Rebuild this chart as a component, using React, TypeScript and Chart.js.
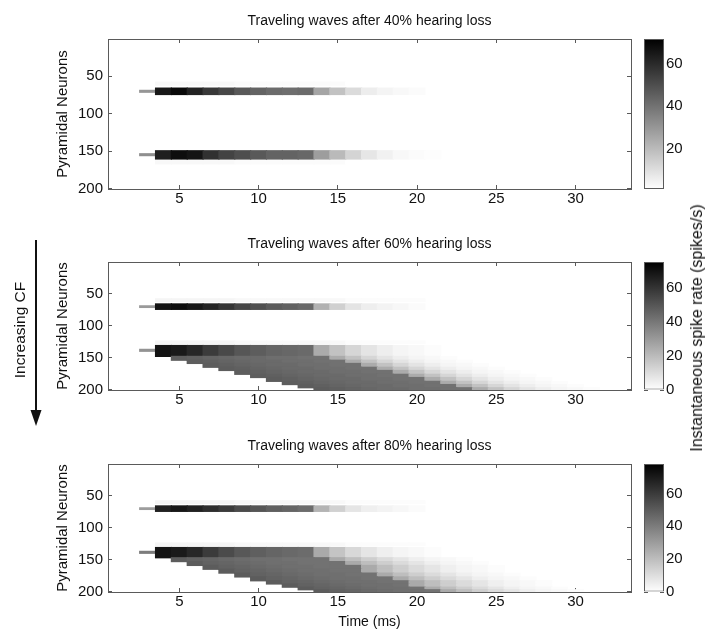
import React, { useEffect, useRef } from 'react';
import { Chart, registerables } from 'chart.js';
Chart.register(...registerables);

const FONT = "'Liberation Sans', Arial, Helvetica, sans-serif";

// ---- axis ticks / labels ----
const timeTicks = [5, 10, 15, 20, 25, 30];
const neuronTicks = [50, 100, 150, 200];
const panelTitles = [
  'Traveling waves after 40% hearing loss',
  'Traveling waves after 60% hearing loss',
  'Traveling waves after 80% hearing loss',
];
const colorbarLabel = 'Instantaneous spike rate (spikes/s)';
const timeLabel = 'Time (ms)';
const neuronLabel = 'Pyramidal Neurons';
const arrowLabel = 'Increasing CF';

// colour ranges of each panel [min, max] and colorbar ticks
const p1Range = [1, 71.5];
const p2Range = [0, 75.5];
const p3Range = [0, 78];
const p1BarTicks = [20, 40, 60];
const p2BarTicks = [0, 20, 40, 60];
const p3BarTicks = [0, 20, 40, 60];

// faint halo rate next to the bands (t = 3..20)
const haloRate = [0, 3, 3, 3, 3, 3, 2, 2, 2, 2, 2, 2, 2, 1, 1, 1, 1, 1];

// ---- Panel 1 (40% loss): two bands, rates per 1-ms bin starting at t=3 ----
const p1UpperRows = [66, 74.5];
const p1UpperThinRows = [69, 71.5];
const p1UpperHaloRows = [58, 62];
const p1UpperRate = [30, 65, 69, 62, 56, 52, 47, 44, 42, 41, 42, 26, 18, 11, 6, 4, 3, 2];
const p1LowerRows = [149.5, 160.5];
const p1LowerThinRows = [153.5, 156];
const p1LowerHaloRows = [163, 167];
const p1LowerRate = [32, 63, 68, 66, 58, 53, 50, 47, 44, 44, 43, 28, 20, 13, 8, 5, 3, 2, 1.5];

// ---- Panel 2 (60% loss) ----
const p2UpperRows = [66, 74.5];
const p2UpperThinRows = [69, 71.5];
const p2UpperHaloRows = [58, 62];
const p2UpperRate = [30, 70, 72, 69, 65, 60, 55, 52, 49, 47, 45, 23, 14, 8, 5, 3.6, 2.4, 1.2];
const p2HeadRows = [131, 148];
const p2HeadThinRows = [137, 140];
const p2HeadHaloRows = [124, 128];
const p2HeadRate = [32, 70, 68, 64, 58, 54, 50, 48, 46, 45, 44, 25, 18, 12, 8, 5, 3, 2, 1];
const p2StepEdges = [148, 154, 159, 165, 170, 176, 181, 187, 192, 197, 200.5];
const p2StepOnset = [5, 6, 7, 8, 9, 10, 11, 12, 13, 14];
const p2StepDrop = [15, 16, 17, 18, 19, 20, 21, 22, 23, 24];
const p2StepActive = [48, 47, 46, 45, 44, 44, 43, 43, 42, 42];
const p2StepFade = [25, 18, 12, 8, 5, 3, 2, 1];

// ---- Panel 3 (80% loss) ----
const p3UpperRows = [66, 74.5];
const p3UpperThinRows = [69, 71.5];
const p3UpperHaloRows = [58, 62];
const p3UpperRate = [30, 68, 71, 68, 64, 60, 55, 52, 49, 47, 45, 23, 14, 8, 5, 3.6, 2.4, 1.2];
const p3HeadRows = [131, 147];
const p3HeadThinRows = [137, 140];
const p3HeadHaloRows = [124, 128];
const p3HeadRate = [40, 72, 70, 66, 60, 55, 51, 49, 47, 46, 45, 26, 18, 12, 8, 5, 3, 2, 1];
const p3StepEdges = [147, 153, 159, 165, 171, 177, 183, 188, 193, 197, 200.5];
const p3StepOnset = [5, 6, 7, 8, 9, 10, 11, 12, 13, 14];
const p3StepDrop = [15, 16, 17, 17, 18, 19, 20, 20, 21, 22];
const p3StepActive = [50, 48, 47, 46, 45, 44, 44, 43, 43, 43];
const p3StepFade = [26, 20, 15, 11, 8, 5, 3, 2, 1];

type Cell = { x: number; y: [number, number]; v: number };

function bandCells(rows: number[], start: number, rates: number[], thin?: number[]): Cell[] {
  return rates
    .map((v, i) => ({
      x: start + i,
      y: (i === 0 && thin ? [thin[0], thin[1]] : [rows[0], rows[1]]) as [number, number],
      v,
    }))
    .filter((c) => c.v > 0);
}

function stepCells(edges: number[], onsets: number[], drops: number[], active: number[], fade: number[]): Cell[] {
  const out: Cell[] = [];
  onsets.forEach((t0, k) => {
    const rows = [edges[k], edges[k + 1]];
    const on = active.slice(0, drops[k] - t0);
    out.push(...bandCells(rows, t0, on));
    out.push(...bandCells(rows, drops[k], fade));
  });
  return out;
}

function grayOf(v: number, lo: number, hi: number) {
  const f = Math.min(1, Math.max(0, (v - lo) / (hi - lo)));
  const g = Math.round(255 * (1 - f));
  return `rgb(${g},${g},${g})`;
}

const TEXT = '#111';
const AXIS = '#5a5a5a';

function fixedTicks(values: number[]) {
  return (axis: any) => {
    axis.ticks = values.map((value) => ({ value }));
  };
}

function heatmapConfig(cells: Cell[], range: number[], title: string, bottomH: number, showTime: boolean): any {
  const innerTicks = { drawOnChartArea: false, drawTicks: true, tickLength: -4, color: AXIS, lineWidth: 1 };
  const border = { display: true, color: AXIS, width: 1 };
  return {
    type: 'bar',
    data: {
      datasets: [
        {
          data: cells,
          backgroundColor: (c: any) => (c.raw ? grayOf(c.raw.v, range[0], range[1]) : '#fff'),
          borderWidth: 0,
          barPercentage: 1,
          categoryPercentage: 1,
          inflateAmount: 0.6,
          grouped: false,
        },
      ],
    },
    options: {
      animation: false,
      responsive: false,
      events: [],
      layout: { padding: { left: 0, right: 5, top: 0, bottom: 0 } },
      plugins: {
        legend: { display: false },
        tooltip: { enabled: false },
        title: {
          display: true,
          text: title,
          fullSize: false,
          color: TEXT,
          font: { family: FONT, size: 14, weight: 'normal' },
          padding: { top: 9.6, bottom: 9.6 },
        },
      },
      scales: {
        x: {
          type: 'linear',
          position: 'bottom',
          min: 0.5,
          max: 33.5,
          offset: false,
          afterBuildTicks: fixedTicks(timeTicks),
          afterFit: (s: any) => {
            s.height = bottomH;
          },
          ticks: { color: TEXT, font: { family: FONT, size: 15 }, padding: 5, maxRotation: 0, callback: (v: any) => String(v) },
          grid: { ...innerTicks, offset: false },
          border,
          title: {
            display: showTime,
            text: timeLabel,
            color: TEXT,
            font: { family: FONT, size: 14 },
            padding: { top: 0, bottom: 4.6 },
          },
        },
        x2: {
          type: 'linear',
          axis: 'x',
          position: 'top',
          min: 0.5,
          max: 33.5,
          offset: false,
          afterBuildTicks: fixedTicks(timeTicks),
          afterFit: (s: any) => {
            s.height = 0;
          },
          ticks: { display: false },
          grid: { ...innerTicks, offset: false },
          border,
        },
        y: {
          type: 'linear',
          position: 'left',
          reverse: true,
          min: 0.5,
          max: 200.5,
          afterBuildTicks: fixedTicks(neuronTicks),
          afterFit: (s: any) => {
            s.width = 108;
          },
          ticks: { color: TEXT, font: { family: FONT, size: 15 }, padding: 9, callback: (v: any) => String(v) },
          grid: innerTicks,
          border,
          title: {
            display: true,
            text: neuronLabel,
            color: TEXT,
            font: { family: FONT, size: 15 },
            padding: { top: 53.5, bottom: 0 },
          },
        },
        y2: {
          type: 'linear',
          axis: 'y',
          position: 'right',
          reverse: true,
          min: 0.5,
          max: 200.5,
          afterBuildTicks: fixedTicks(neuronTicks),
          afterFit: (s: any) => {
            s.width = 0;
          },
          ticks: { display: false },
          grid: innerTicks,
          border,
        },
      },
    },
  };
}

function colorbarConfig(range: number[], ticks: number[], bottomH: number): any {
  const innerTicks = { drawOnChartArea: false, drawTicks: true, tickLength: -4, color: AXIS, lineWidth: 1 };
  return {
    type: 'bar',
    data: {
      labels: ['rate'],
      datasets: [
        {
          data: [[range[0], range[1]]],
          backgroundColor: (c: any) => {
            const ca = c.chart.chartArea;
            if (!ca) return '#888';
            const g = c.chart.ctx.createLinearGradient(0, ca.bottom, 0, ca.top);
            g.addColorStop(0, '#ffffff');
            g.addColorStop(1, '#000000');
            return g;
          },
          borderColor: AXIS,
          borderWidth: 1,
          borderSkipped: false,
          barPercentage: 1,
          categoryPercentage: 1,
          inflateAmount: 0,
        },
      ],
    },
    options: {
      animation: false,
      responsive: false,
      events: [],
      layout: { padding: { left: 8, right: 0, top: 36, bottom: bottomH } },
      plugins: { legend: { display: false }, tooltip: { enabled: false }, title: { display: false } },
      scales: {
        x: { display: false },
        y: {
          type: 'linear',
          position: 'right',
          min: range[0],
          max: range[1],
          afterBuildTicks: fixedTicks(ticks),
          afterFit: (s: any) => {
            s.width = 42;
          },
          ticks: { color: TEXT, font: { family: FONT, size: 15 }, padding: 6, callback: (v: any) => String(v) },
          grid: innerTicks,
          border: { display: false },
        },
        y2: {
          type: 'linear',
          axis: 'y',
          position: 'left',
          min: range[0],
          max: range[1],
          afterBuildTicks: fixedTicks(ticks),
          afterFit: (s: any) => {
            s.width = 0;
          },
          ticks: { display: false },
          grid: innerTicks,
          border: { display: false },
        },
      },
    },
  };
}

function ChartCanvas(props: { left: number; top: number; width: number; height: number; make: () => any }) {
  const ref = useRef<HTMLCanvasElement>(null);
  useEffect(() => {
    const chart = new Chart(ref.current as HTMLCanvasElement, props.make());
    return () => chart.destroy();
  }, []);
  return (
    <canvas
      ref={ref}
      width={props.width}
      height={props.height}
      style={{ position: 'absolute', left: props.left, top: props.top, width: props.width, height: props.height }}
    />
  );
}

const p1Cells = [
  ...bandCells(p1UpperHaloRows, 3, haloRate),
  ...bandCells(p1LowerHaloRows, 3, haloRate),
  ...bandCells(p1UpperRows, 3, p1UpperRate, p1UpperThinRows),
  ...bandCells(p1LowerRows, 3, p1LowerRate, p1LowerThinRows),
];
const p2Cells = [
  ...bandCells(p2UpperHaloRows, 3, haloRate),
  ...bandCells(p2HeadHaloRows, 3, haloRate),
  ...bandCells(p2UpperRows, 3, p2UpperRate, p2UpperThinRows),
  ...bandCells(p2HeadRows, 3, p2HeadRate, p2HeadThinRows),
  ...stepCells(p2StepEdges, p2StepOnset, p2StepDrop, p2StepActive, p2StepFade),
];
const p3Cells = [
  ...bandCells(p3UpperHaloRows, 3, haloRate),
  ...bandCells(p3HeadHaloRows, 3, haloRate),
  ...bandCells(p3UpperRows, 3, p3UpperRate, p3UpperThinRows),
  ...bandCells(p3HeadRows, 3, p3HeadRate, p3HeadThinRows),
  ...stepCells(p3StepEdges, p3StepOnset, p3StepDrop, p3StepActive, p3StepFade),
];

export default function App() {
  const panels = [
    { plotTop: 39, plotBottom: 189, cells: p1Cells, range: p1Range, ticks: p1BarTicks, bottomH: 24, time: false },
    { plotTop: 262, plotBottom: 390, cells: p2Cells, range: p2Range, ticks: p2BarTicks, bottomH: 24, time: false },
    { plotTop: 464, plotBottom: 592, cells: p3Cells, range: p3Range, ticks: p3BarTicks, bottomH: 43, time: true },
  ];
  return (
    <div style={{ position: 'absolute', left: 0, top: 0, width: 706, height: 635, background: '#fff', overflow: 'hidden' }}>
      {panels.map((p, i) => {
        const top = p.plotTop - 36;
        const h = 36 + (p.plotBottom - p.plotTop) + p.bottomH;
        return (
          <React.Fragment key={i}>
            <ChartCanvas left={0} top={top} width={636} height={h} make={() => heatmapConfig(p.cells, p.range, panelTitles[i], p.bottomH, p.time)} />
            <ChartCanvas left={636} top={top} width={70} height={h} make={() => colorbarConfig(p.range, p.ticks, p.bottomH)} />
          </React.Fragment>
        );
      })}
      <div
        style={{
          position: 'absolute',
          left: 697,
          top: 328,
          transform: 'translate(-50%, -50%) rotate(-90deg)',
          whiteSpace: 'nowrap',
          fontFamily: FONT,
          fontSize: 16,
          lineHeight: '18px',
          color: TEXT,
        }}
      >
        {colorbarLabel}
      </div>
      <div
        style={{
          position: 'absolute',
          left: 20,
          top: 330,
          transform: 'translate(-50%, -50%) rotate(-90deg)',
          whiteSpace: 'nowrap',
          fontFamily: FONT,
          fontSize: 15.5,
          lineHeight: '18px',
          color: TEXT,
        }}
      >
        {arrowLabel}
      </div>
      <svg style={{ position: 'absolute', left: 26, top: 236 }} width={20} height={192}>
        <line x1={10} y1={4} x2={10} y2={178} stroke="#111" strokeWidth={2} />
        <polygon points="4.5,174 15.5,174 10,190" fill="#111" />
      </svg>
    </div>
  );
}
